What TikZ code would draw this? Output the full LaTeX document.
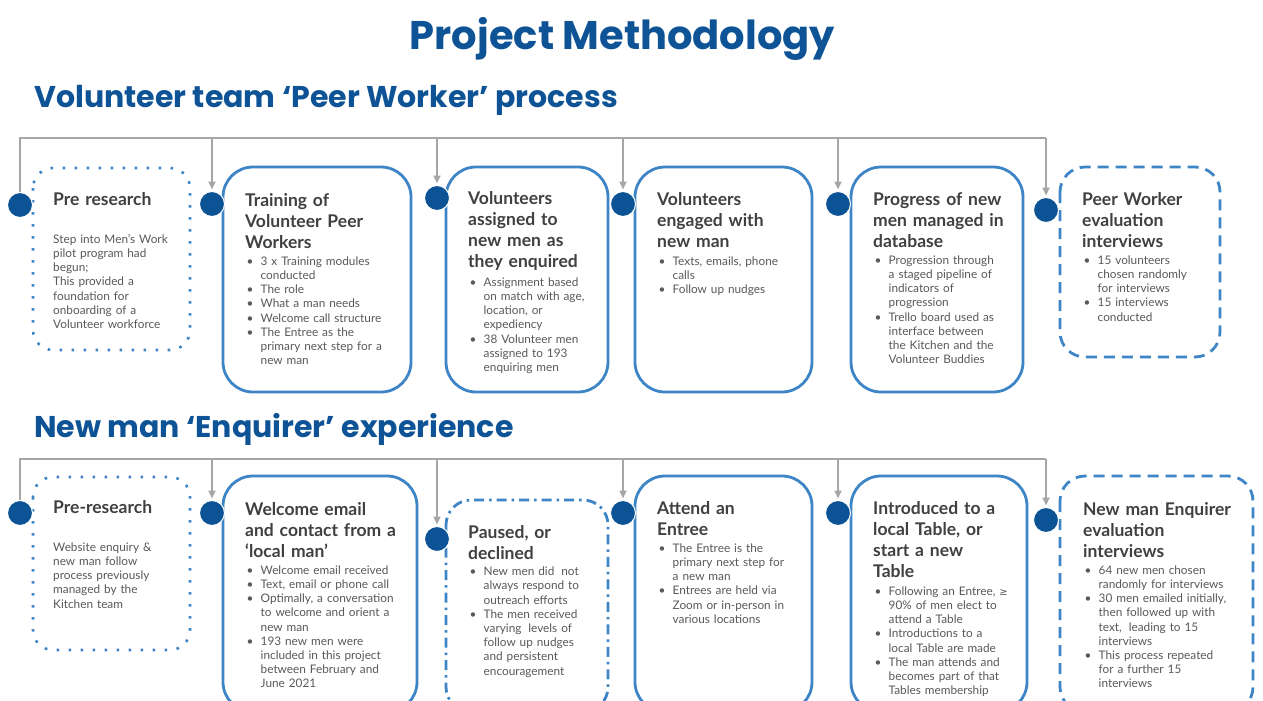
\documentclass[tikz,border=0pt]{standalone}
\usepackage{fontspec}
\setmainfont{Lato}
\newfontfamily\headfont{Poppins}
\newfontfamily\symfont{DejaVu Sans}
\usetikzlibrary{arrows.meta}

\definecolor{navy}{RGB}{14,83,150}
\definecolor{dotblue}{RGB}{11,83,148}
\definecolor{edgeblue}{RGB}{61,133,198}
\definecolor{wiregray}{RGB}{166,166,166}
\definecolor{ttlgray}{RGB}{64,64,64}
\definecolor{txtgray}{RGB}{89,89,89}

\newcommand{\ttlfont}{\fontsize{17.5}{21.2}\selectfont\bfseries}
\newcommand{\txtfont}{\fontsize{11.8}{14.2}\selectfont}
% bullet items with hanging indent; \nl breaks a line inside an item
\newcommand{\blt}{\leavevmode\hangindent=15.5pt\hangafter=1\makebox[15.5pt][l]{\hspace{1.5pt}\textbullet}\strut}
\newcommand{\nxt}{\par\blt}
\newcommand{\nl}{\hfil\break}

\tikzset{
  head/.style={anchor=base, text=navy, inner sep=0pt, font={\fontsize{40}{44}\headfont\bfseries}},
  subhead/.style={anchor=base west, text=navy, inner sep=0pt, font={\fontsize{30}{34}\headfont\bfseries}},
  ttl/.style={anchor=north west, inner sep=0pt, text width=190pt, align=left, text=ttlgray, font=\ttlfont},
  txt/.style={anchor=north west, inner sep=0pt, text width=190pt, align=left, text=txtgray, font=\txtfont},
  stepcard/.style={draw=edgeblue, line width=2.8pt, rounded corners=30pt},
  planbox/.style={draw=edgeblue, line width=2.6pt, rounded corners=20pt, dash pattern=on 2.6pt off 9.4pt},
  evalbox/.style={draw=edgeblue, line width=2.8pt, rounded corners=25pt, dash pattern=on 11pt off 7pt},
  holdbox/.style={draw=edgeblue, line width=2.8pt, rounded corners=25pt, dash pattern=on 10pt off 5pt on 2.5pt off 5pt},
  dot/.style={circle, fill=dotblue, draw=white, line width=1pt, minimum size=25pt, inner sep=0pt},
  link/.style={draw=wiregray, line width=2pt},
  drop/.style={link, -{Triangle[width=7pt,length=8pt]}, shorten >=1.5pt},
}

\begin{document}
\begin{tikzpicture}[x=1pt, y=-1pt]
\path[use as bounding box, fill=white] (0,0) rectangle (1263,701);
\clip (0,0) rectangle (1263,701);

\node[head] (title) at (622.5,49) {Project Methodology};
\node[subhead] (peer) at (34,107) {Volunteer team ‘Peer Worker’ process};
\node[subhead] (enq) at (34,437) {New man ‘Enquirer’ experience};

% volunteer process row
\draw[planbox] (33,168) rectangle (190,350);
\draw[stepcard] (223,167) rectangle (411,392);
\draw[stepcard] (446,167) rectangle (608,392);
\draw[stepcard] (635,167) rectangle (812,392);
\draw[stepcard] (851,167) rectangle (1023,392);
\draw[evalbox] (1060,167) rectangle (1220,357);

\node[ttl] (a1) at (53,190.2) {\strut Pre research};
\node[txt] (a1t) at (53,233.1) {\strut Step into Men’s Work\\pilot program had\\begun;\\This provided a\\foundation for\\onboarding of a\\Volunteer workforce};
\node[ttl] (a2) at (245,191.2) {\strut Training of\\Volunteer Peer\\Workers};
\node[txt] (a2t) at (245,255.1) {\blt 3 x Training modules\nl conducted
  \nxt The role
  \nxt What a man needs
  \nxt Welcome call structure
  \nxt The Entree as the\nl primary next step for a\nl new man\par};
\node[ttl] (a3) at (468,189.2) {\strut Volunteers\\assigned to\\new men as\\they enquired};
\node[txt] (a3t) at (468,276.1) {\blt Assignment based\nl on match with age,\nl location, or\nl expediency
  \nxt 38 Volunteer men\nl assigned to 193\nl enquiring men\par};
\node[ttl] (a4) at (657,190.2) {\strut Volunteers\\engaged with\\new man};
\node[txt] (a4t) at (657,255.1) {\blt Texts, emails, phone\nl calls
  \nxt Follow up nudges\par};
\node[ttl] (a5) at (873,190.2) {\strut Progress of new\\men managed in\\database};
\node[txt] (a5t) at (873,254.1) {\blt Progression through\nl a staged pipeline of\nl indicators of\nl progression
  \nxt Trello board used as\nl interface between\nl the Kitchen and the\nl Volunteer Buddies\par};
\node[ttl] (a6) at (1082,190.2) {\strut Peer Worker\\evaluation\\interviews};
\node[txt] (a6t) at (1082,254.1) {\blt 15 volunteers\nl chosen randomly\nl for interviews
  \nxt 15 interviews\nl conducted\par};

\node[dot] (p1) at (20,205) {};
\node[dot] (p2) at (212,204) {};
\node[dot] (p3) at (437,198) {};
\node[dot] (p4) at (623,204) {};
\node[dot] (p5) at (838,204) {};
\node[dot] (p6) at (1046,210) {};

\coordinate (bus1) at (0,138);
\draw[link] (p1) -- (p1 |- bus1) -- (p6 |- bus1);
\foreach \p in {p2,p3,p4,p5,p6}
  \draw[drop] (\p |- bus1) -- (\p);

% enquirer experience row
\draw[planbox] (33,477) rectangle (190,650);
\draw[stepcard] (223,476) rectangle (417,712);
\draw[holdbox] (446,500) rectangle (608,712);
\draw[stepcard] (635,476) rectangle (812,712);
\draw[stepcard] (851,476) rectangle (1027,712);
\draw[evalbox] (1060,476) rectangle (1253,712);

\node[ttl] (b1) at (53,498.2) {\strut Pre-research};
\node[txt] (b1t) at (53,541.1) {\strut Website enquiry \&\\new man follow\\process previously\\managed by the\\Kitchen team};
\node[ttl] (b2) at (245,500.2) {\strut Welcome email\\and contact from a\\‘local man’};
\node[txt] (b2t) at (245,564.1) {\blt Welcome email received
  \nxt Text, email or phone call
  \nxt Optimally, a conversation\nl to welcome and orient a\nl new man
  \nxt 193 new men were\nl included in this project\nl between February and\nl June 2021\par};
\node[ttl] (b3) at (468,523.2) {\strut Paused, or\\declined};
\node[txt] (b3t) at (468,565.6) {\blt New men did\hspace{3pt} not\nl always respond to\nl outreach efforts
  \nxt The men received\nl varying\hspace{3pt} levels of\nl follow up nudges\nl and persistent\nl encouragement\par};
\node[ttl] (b4) at (657,499.2) {\strut Attend an\\Entree};
\node[txt] (b4t) at (657,542.1) {\blt The Entree is the\nl primary next step for\nl a new man
  \nxt Entrees are held via\nl Zoom or in-person in\nl various locations\par};
\node[ttl] (b5) at (873,499.2) {\strut Introduced to a\\local Table, or\\start a new\\Table};
\node[txt] (b5t) at (873,585.1) {\blt Following an Entree, {\symfont\fontsize{10}{14.2}\selectfont ≥}\nl 90\% of men elect to\nl attend a Table
  \nxt Introductions to a\nl local Table are made
  \nxt The man attends and\nl becomes part of that\nl Tables membership\par};
\node[ttl] (b6) at (1083,500.2) {\strut New man Enquirer\\evaluation\\interviews};
\node[txt] (b6t) at (1083,564.1) {\blt 64 new men chosen\nl randomly for interviews
  \nxt 30 men emailed initially,\nl then followed up with\nl text,\hspace{3pt} leading to 15\nl interviews
  \nxt This process repeated\nl for a further 15\nl interviews\par};

\node[dot] (q1) at (20,513) {};
\node[dot] (q2) at (212,513) {};
\node[dot] (q3) at (437,539) {};
\node[dot] (q4) at (623,513) {};
\node[dot] (q5) at (838,513) {};
\node[dot] (q6) at (1046,520) {};

\coordinate (bus2) at (0,459);
\draw[link] (q1) -- (q1 |- bus2) -- (q6 |- bus2);
\foreach \q in {q2,q3,q4,q5,q6}
  \draw[drop] (\q |- bus2) -- (\q);
\end{tikzpicture}
\end{document}
